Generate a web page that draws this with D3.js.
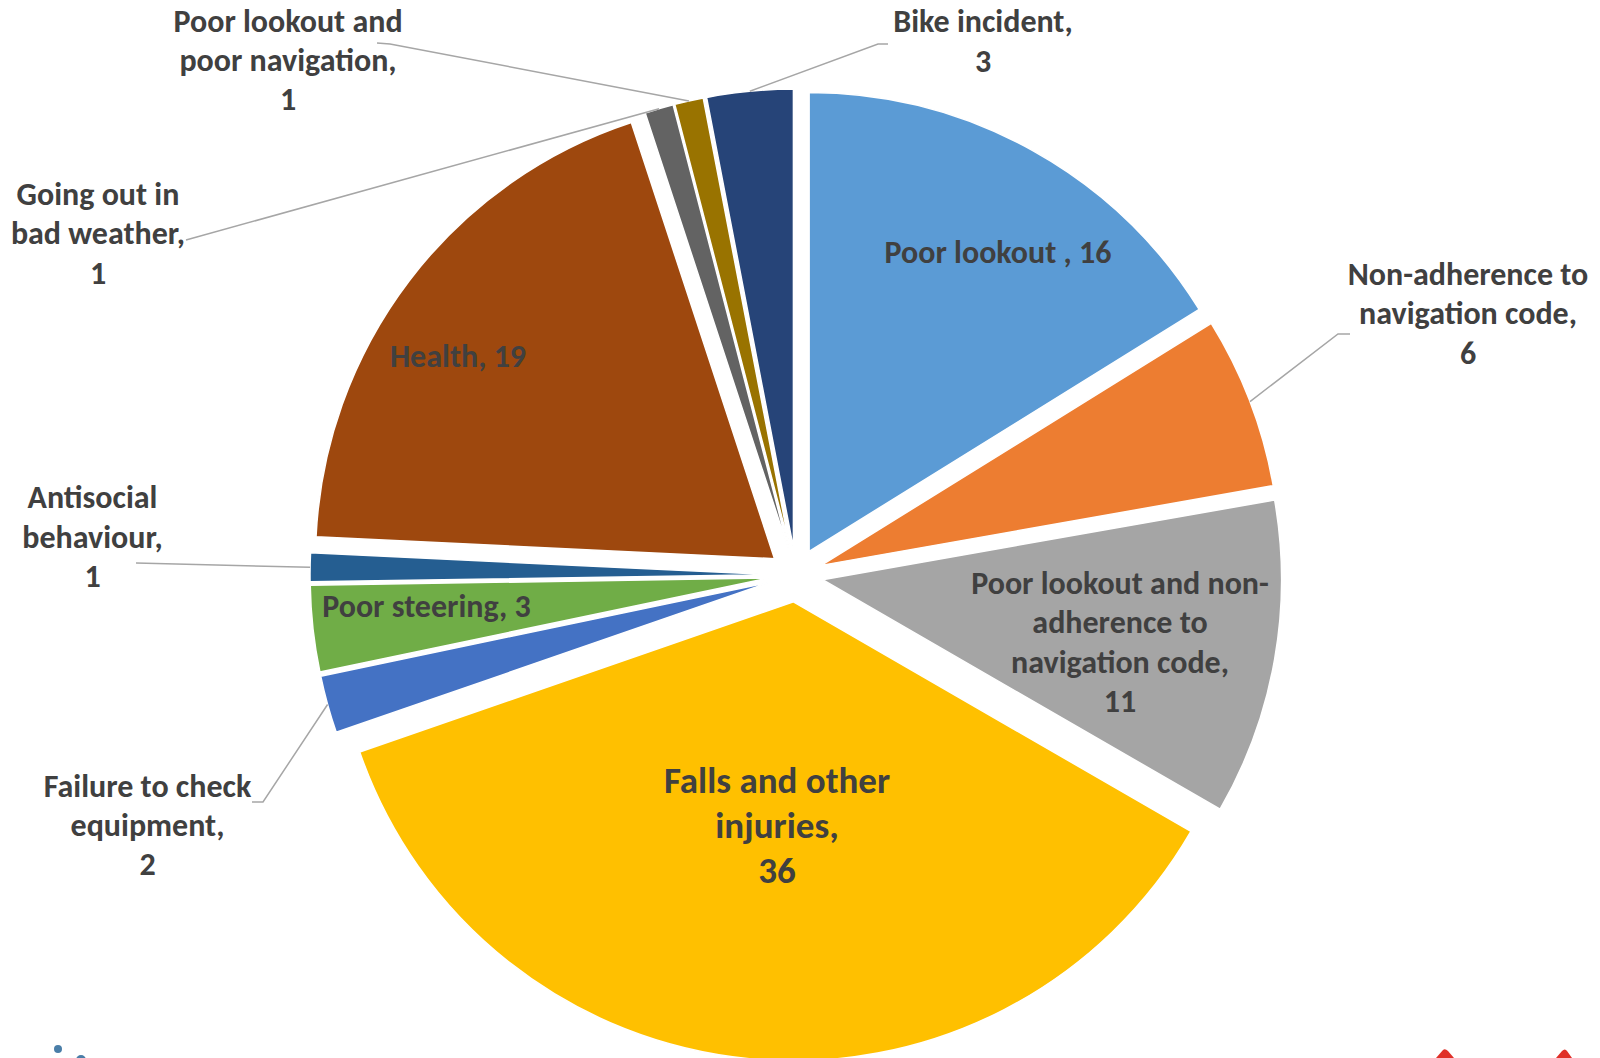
<!DOCTYPE html>
<html>
<head>
<meta charset="utf-8">
<script src="https://cdn.jsdelivr.net/npm/d3@7"></script>
<style>
  html, body { margin: 0; padding: 0; background: #ffffff; }
  svg { display: block; }
  text { font-family: Carlito, Calibri, Lato, "Noto Sans", sans-serif; font-weight: 700; fill: #404040; }
</style>
</head>
<body>
<svg id="chart" width="1600" height="1058"></svg>
<script>
// ---- data ----
const categories = [
  "Poor lookout ",
  "Non-adherence to navigation code",
  "Poor lookout and non-adherence to navigation code",
  "Falls and other injuries",
  "Failure to check equipment",
  "Poor steering",
  "Antisocial behaviour",
  "Health",
  "Going out in bad weather",
  "Poor lookout and poor navigation",
  "Bike incident"
];
const values = [16, 6, 11, 36, 2, 3, 1, 19, 1, 1, 3];
const colors = ["#5B9BD5", "#ED7D31", "#A5A5A5", "#FFC000", "#4472C4", "#70AD47",
                "#255E91", "#9E480E", "#636363", "#997300", "#264478"];

// label text lines (as shown in the chart)
const labelLines = [
  ["Poor lookout , 16"],
  ["Non-adherence to", "navigation code,", "6"],
  ["Poor lookout and non-", "adherence to", "navigation code,", "11"],
  ["Falls and other", "injuries,", "36"],
  ["Failure to check", "equipment,", "2"],
  ["Poor steering, 3"],
  ["Antisocial", "behaviour,", "1"],
  ["Health, 19"],
  ["Going out in", "bad weather,", "1"],
  ["Poor lookout and", "poor navigation,", "1"],
  ["Bike incident,", "3"]
];

// ---- layout (positions / styles) ----
const W = 1600, H = 1058;
const cx = 796, cy = 575;       // pie centre
const R = 459;                  // slice radius
const explode = 27;             // explosion offset for each slice

// label placement: centre x, first baseline y, font size, line step, leader path after arc point
const labelLayout = [
  {x: 998,  y: 263,   fs: 32, step: 39.3, leader: null},
  {x: 1468, y: 285,   fs: 32, step: 39.3, leader: [[1338, 334], [1350, 334]]},
  {x: 1120, y: 593.5, fs: 32, step: 39.5, leader: null},
  {x: 777,  y: 792.7, fs: 37, step: 45,   leader: null},
  {x: 147.5,y: 796.7, fs: 32, step: 39.3, leader: [[263, 802], [252, 802]]},
  {x: 426.5,y: 616.7, fs: 32, step: 39.3, leader: null},
  {x: 92.5, y: 508.3, fs: 32, step: 39.3, leader: [[136, 563]]},
  {x: 458,  y: 366.7, fs: 32, step: 39.3, leader: null},
  {x: 98,   y: 205,   fs: 32, step: 39.3, leader: [[186, 240]]},
  {x: 288,  y: 31.7,  fs: 32, step: 39.3, leader: [[390, 44], [377, 43]]},
  {x: 983,  y: 32.3,  fs: 32, step: 39.3, leader: [[878, 44], [888, 44]]}
];

const svg = d3.select("#chart");

const data = categories.map((c, i) => ({name: c, value: values[i], color: colors[i], i}));
const pie = d3.pie().sort(null).value(d => d.value).startAngle(0).endAngle(2 * Math.PI);
const arcs = pie(data);
const arcGen = d3.arc().innerRadius(0).outerRadius(R);

function unit(a) { return [Math.sin(a), -Math.cos(a)]; }

const g = svg.append("g");
arcs.forEach(a => {
  const mid = (a.startAngle + a.endAngle) / 2;
  const u = unit(mid);
  a.ox = cx + explode * u[0];
  a.oy = cy + explode * u[1];
  a.u = u;
  g.append("path")
    .attr("d", arcGen(a))
    .attr("transform", `translate(${a.ox},${a.oy})`)
    .attr("fill", a.data.color)
    .attr("stroke", "#ffffff")
    .attr("stroke-width", 1.5)
    .attr("stroke-linejoin", "round");
});

// leader lines
const lineGen = d3.line();
arcs.forEach((a, i) => {
  const L = labelLayout[i];
  if (!L.leader) return;
  const start = [a.ox + R * a.u[0], a.oy + R * a.u[1]];
  svg.append("path")
    .attr("d", lineGen([start, ...L.leader]))
    .attr("fill", "none")
    .attr("stroke", "#A6A6A6")
    .attr("stroke-width", 1.5);
});

// labels
labelLines.forEach((lines, i) => {
  const L = labelLayout[i];
  const t = svg.append("text")
    .attr("text-anchor", "middle")
    .style("font-size", L.fs + "px");
  lines.forEach((ln, k) => {
    t.append("tspan").attr("x", L.x).attr("y", L.y + k * L.step).text(ln);
  });
});

// partial logo shapes at the bottom corners (cut off in the original)
svg.append("circle").attr("cx", 58).attr("cy", 1049).attr("r", 4).attr("fill", "#4A7EA8");
svg.append("circle").attr("cx", 81).attr("cy", 1060).attr("r", 5).attr("fill", "#4A7EA8");
svg.append("path").attr("d", "M1436,1058 L1443,1050 Q1445,1048 1448,1051 L1454,1058 Z").attr("fill", "#E03028");
svg.append("path").attr("d", "M1556,1058 L1562,1051 Q1565,1048 1567,1051 L1572,1058 Z").attr("fill", "#E03028");
</script>
</body>
</html>
